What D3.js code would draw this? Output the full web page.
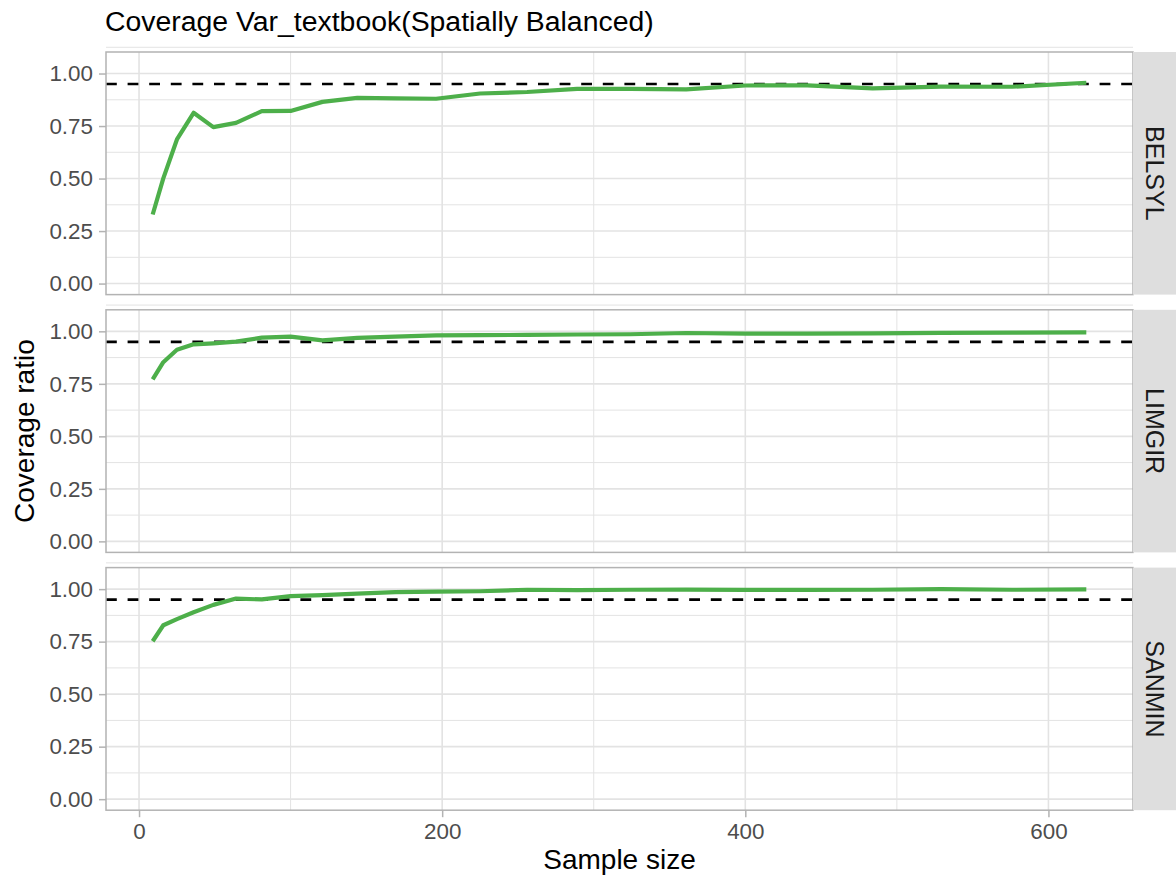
<!DOCTYPE html>
<html>
<head>
<meta charset="utf-8">
<script src="https://cdn.jsdelivr.net/npm/d3@7"></script>
<style>
  html, body { margin: 0; padding: 0; background: #fff; }
  svg { display: block; font-family: "Liberation Sans", Arial, Helvetica, sans-serif; }
</style>
</head>
<body>
<svg id="chart" width="1176" height="884"></svg>
<script>
// ---------------- data ----------------
const sampleSize = [9, 16, 25, 36, 49, 64, 81, 100, 121, 144, 169, 196, 225, 256, 289, 324, 361, 400, 441, 484, 529, 576, 625];
const belsyl = [0.329, 0.501, 0.686, 0.813, 0.745, 0.765, 0.821, 0.822, 0.865, 0.884, 0.882, 0.880, 0.905, 0.912, 0.927, 0.927, 0.925, 0.943, 0.944, 0.929, 0.938, 0.937, 0.956];
const limgir = [0.771, 0.853, 0.912, 0.938, 0.943, 0.951, 0.970, 0.975, 0.957, 0.969, 0.975, 0.981, 0.982, 0.983, 0.985, 0.986, 0.992, 0.989, 0.989, 0.990, 0.993, 0.994, 0.995];
const sanmin = [0.752, 0.828, 0.857, 0.890, 0.925, 0.955, 0.951, 0.967, 0.971, 0.979, 0.986, 0.988, 0.990, 0.997, 0.995, 0.997, 0.998, 0.996, 0.996, 0.997, 1.000, 0.997, 0.999];
const panelNames = ["BELSYL", "LIMGIR", "SANMIN"];
const panelSeries = [belsyl, limgir, sanmin];
const yTicks = [0, 0.25, 0.5, 0.75, 1.0];
const yMinor = [0.125, 0.375, 0.625, 0.875, 1.125];
const xTicks = [0, 200, 400, 600];
const xMinor = [100, 300, 500];
const target = 0.95;
const titleText = "Coverage Var_textbook(Spatially Balanced)";
const xLabel = "Sample size";
const yLabel = "Coverage ratio";

// ---------------- layout ----------------
const svg = d3.select("#chart");
const left = 106, right = 1133, stripW = 43;
const panelTops = [52, 309.8, 567.6];
const panelH = 242.6;
const lineColor = "#4DAF4A";
const gridColor = "#E3E3E3";
const borderColor = "#B3B3B3";

const xExt = d3.extent(sampleSize);
const xPad = (xExt[1] - xExt[0]) * 0.05;
const x = d3.scaleLinear().domain([xExt[0] - xPad, xExt[1] + xPad]).range([left, right]);
const yLim = [0, 1.05];
const yPad = (yLim[1] - yLim[0]) * 0.05;

// title
svg.append("text").attr("x", 105).attr("y", 31)
  .attr("font-size", 28.4).attr("fill", "#000").text(titleText);

panelSeries.forEach((vals, i) => {
  const top = panelTops[i], bottom = top + panelH;
  const y = d3.scaleLinear().domain([yLim[0] - yPad, yLim[1] + yPad]).range([bottom, top]);
  const g = svg.append("g");

  g.append("rect").attr("x", left).attr("y", top).attr("width", right - left).attr("height", panelH).attr("fill", "#fff");

  // minor grid
  g.selectAll(".ymin").data(yMinor).enter().append("line")
    .attr("x1", left).attr("x2", right).attr("y1", d => y(d)).attr("y2", d => y(d))
    .attr("stroke", gridColor).attr("stroke-width", 1);
  g.selectAll(".xmin").data(xMinor).enter().append("line")
    .attr("y1", top).attr("y2", bottom).attr("x1", d => x(d)).attr("x2", d => x(d))
    .attr("stroke", gridColor).attr("stroke-width", 1);
  // major grid
  g.selectAll(".ymaj").data(yTicks).enter().append("line")
    .attr("x1", left).attr("x2", right).attr("y1", d => y(d)).attr("y2", d => y(d))
    .attr("stroke", gridColor).attr("stroke-width", 1.6);
  g.selectAll(".xmaj").data(xTicks).enter().append("line")
    .attr("y1", top).attr("y2", bottom).attr("x1", d => x(d)).attr("x2", d => x(d))
    .attr("stroke", gridColor).attr("stroke-width", 1.6);

  // reference line
  g.append("line").attr("x1", left).attr("x2", right).attr("y1", y(target)).attr("y2", y(target))
    .attr("stroke", "#000").attr("stroke-width", 2.6).attr("stroke-dasharray", "10.8,10.8");

  // data line
  const line = d3.line().x((d, k) => x(sampleSize[k])).y(d => y(d));
  g.append("path").datum(vals).attr("d", line).attr("fill", "none")
    .attr("stroke", lineColor).attr("stroke-width", 4.2).attr("stroke-linejoin", "round");

  // border
  g.append("rect").attr("x", left).attr("y", top).attr("width", right - left).attr("height", panelH)
    .attr("fill", "none").attr("stroke", borderColor).attr("stroke-width", 1.5);

  // y axis
  const yAxis = d3.axisLeft(y).tickValues(yTicks).tickFormat(d3.format(".2f")).tickSize(7).tickPadding(6);
  const ya = svg.append("g").attr("transform", `translate(${left},0)`).call(yAxis);
  ya.select(".domain").remove();
  ya.selectAll(".tick line").attr("stroke", borderColor).attr("stroke-width", 1.5);
  ya.selectAll(".tick text").attr("font-size", 22.4).attr("fill", "#4D4D4D")
    .attr("font-family", "'Liberation Sans', Arial, sans-serif");

  // strip
  svg.append("rect").attr("x", right).attr("y", top).attr("width", stripW).attr("height", panelH).attr("fill", "#DEDEDE");
  svg.append("text").attr("transform", `translate(${right + stripW / 2},${top + panelH / 2}) rotate(90)`)
    .attr("text-anchor", "middle").attr("dy", "0.36em").attr("font-size", 25).attr("fill", "#1A1A1A")
    .text(panelNames[i]);

  if (i === panelSeries.length - 1) {
    const xAxis = d3.axisBottom(x).tickValues(xTicks).tickFormat(d3.format("d")).tickSize(7).tickPadding(6);
    const xa = svg.append("g").attr("transform", `translate(0,${bottom})`).call(xAxis);
    xa.select(".domain").remove();
    xa.selectAll(".tick line").attr("stroke", borderColor).attr("stroke-width", 1.5);
    xa.selectAll(".tick text").attr("font-size", 22.4).attr("fill", "#4D4D4D")
      .attr("font-family", "'Liberation Sans', Arial, sans-serif");
  }
});

// axis titles
svg.append("text").attr("x", (left + right) / 2).attr("y", 869).attr("text-anchor", "middle")
  .attr("font-size", 28).attr("fill", "#000").text(xLabel);
svg.append("text").attr("transform", `translate(33.5,${(panelTops[0] + panelTops[2] + panelH) / 2}) rotate(-90)`)
  .attr("text-anchor", "middle").attr("font-size", 28).attr("fill", "#000").text(yLabel);
</script>
</body>
</html>
